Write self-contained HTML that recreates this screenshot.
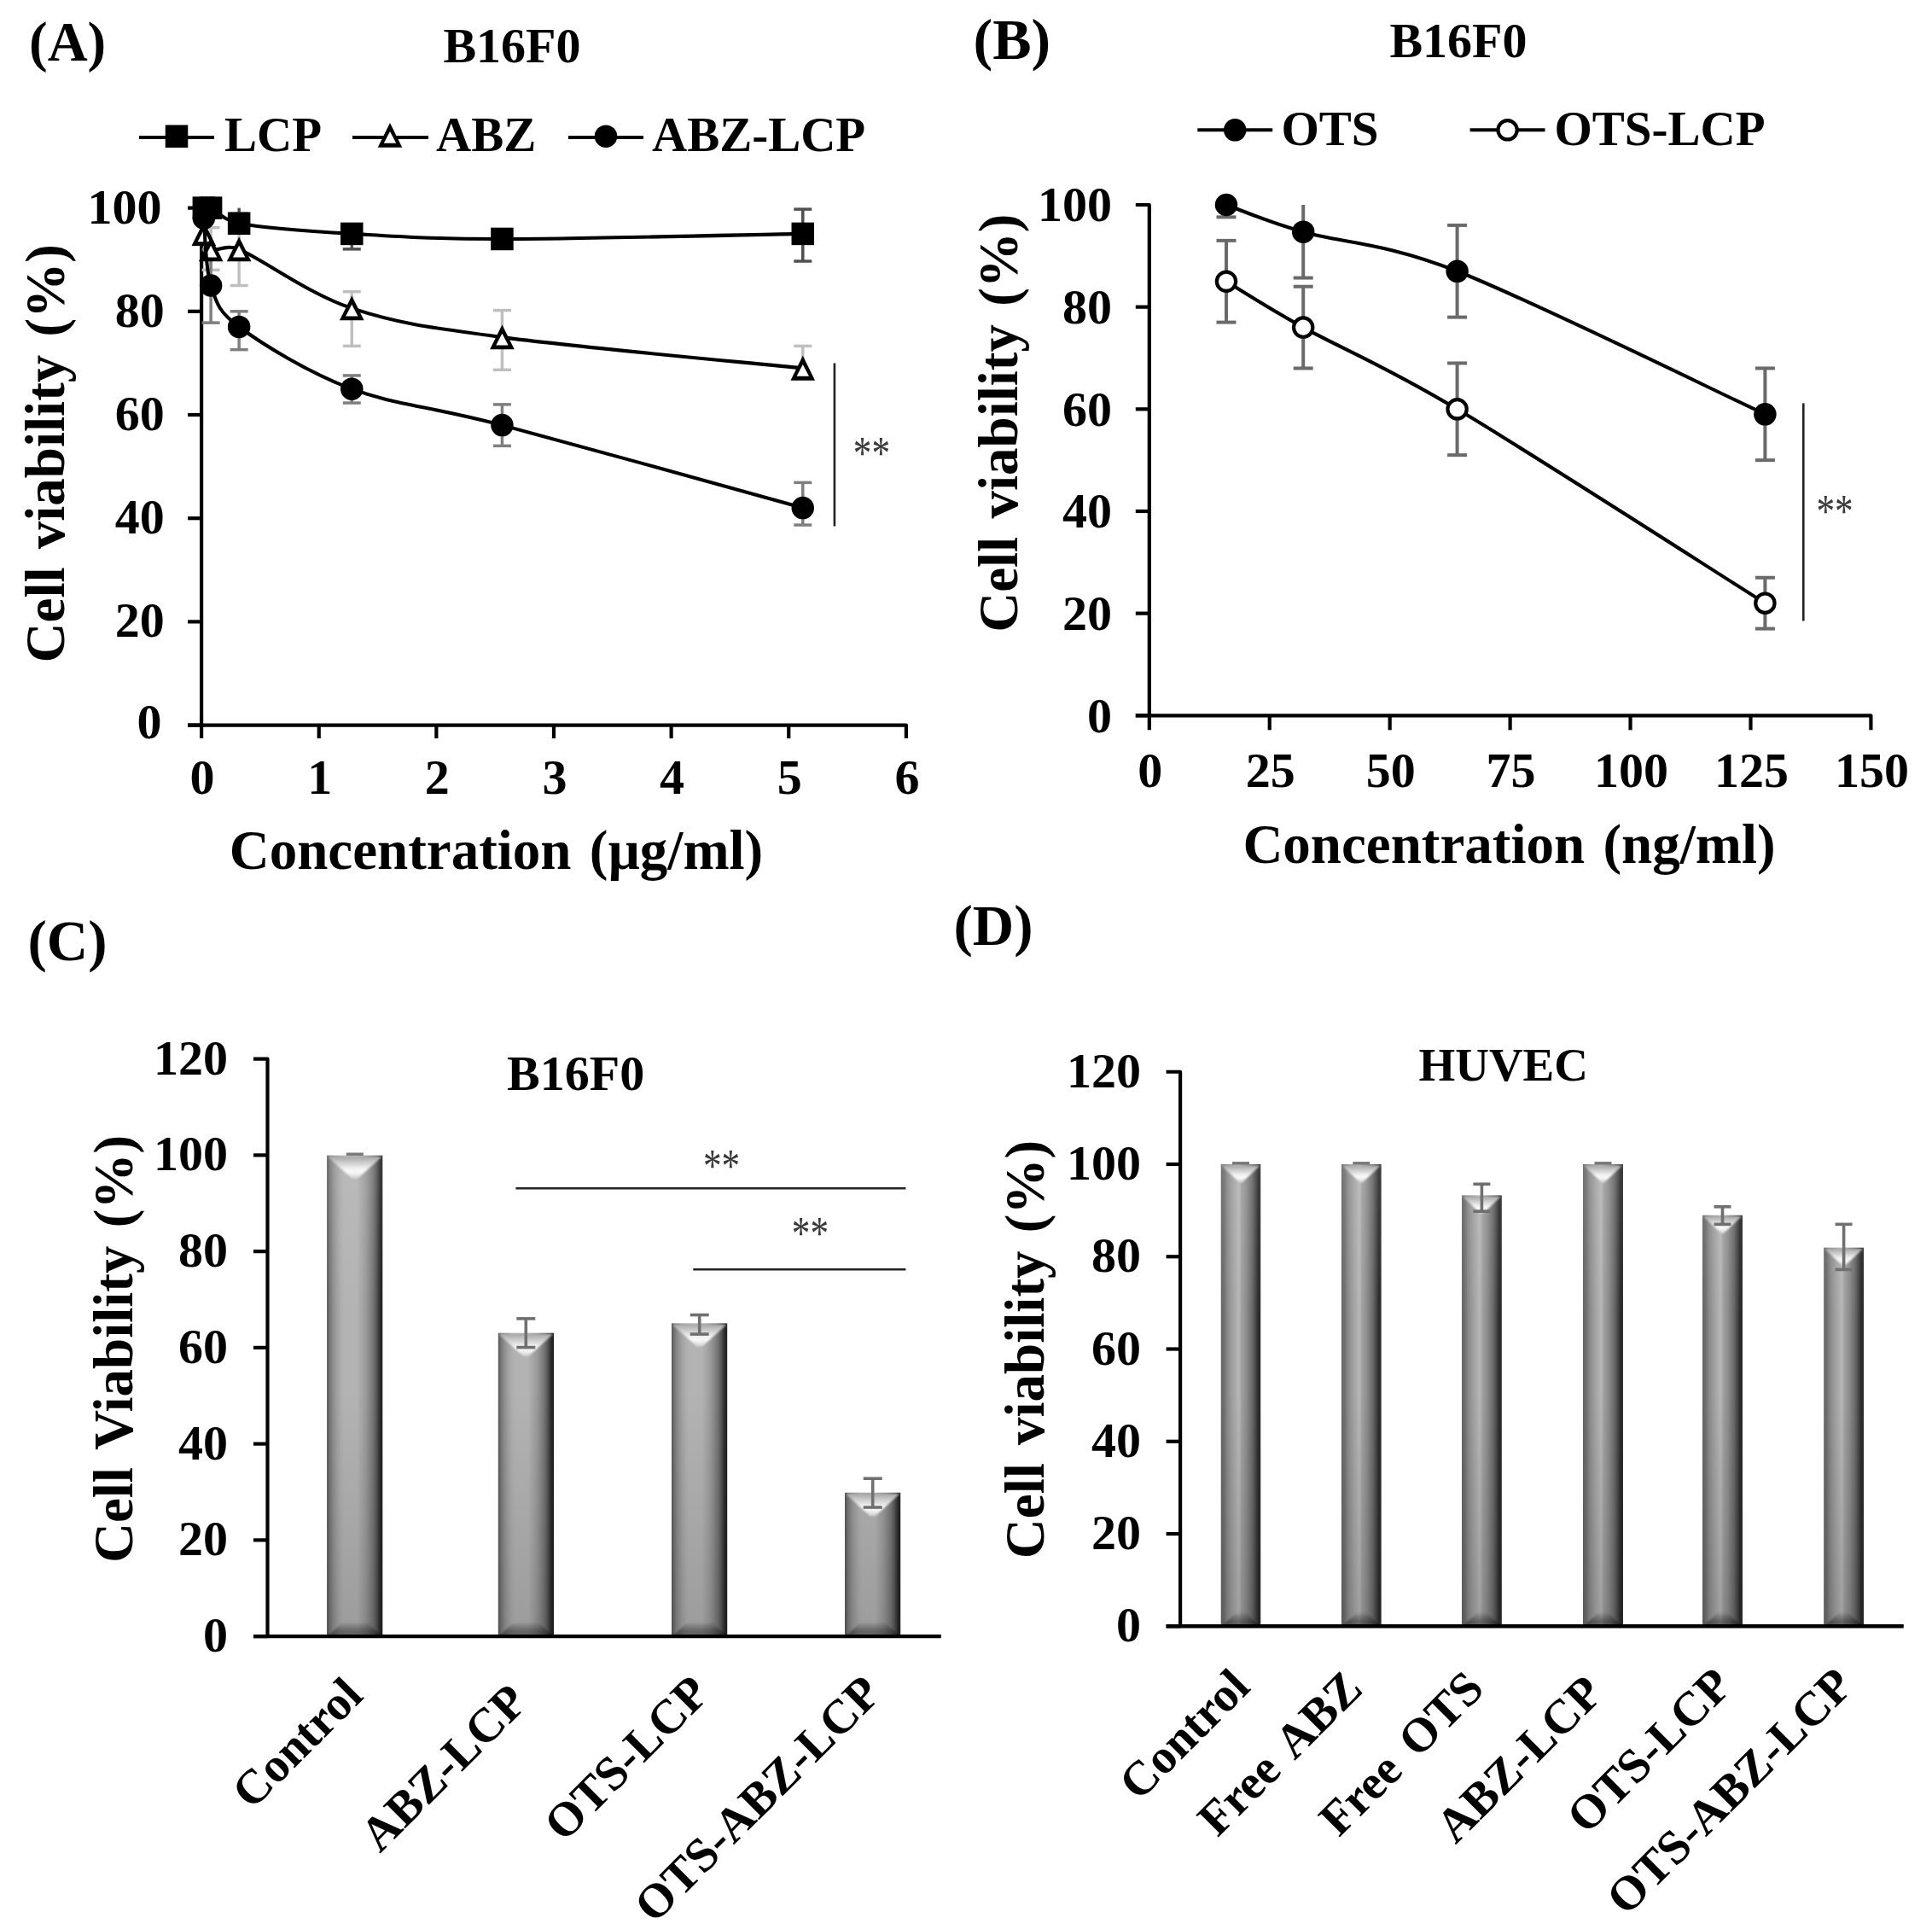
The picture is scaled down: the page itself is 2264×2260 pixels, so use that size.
<!DOCTYPE html>
<html><head><meta charset="utf-8"><title>Figure</title>
<style>
html,body{margin:0;padding:0;background:#fff;}
svg{display:block;font-family:"Liberation Serif","Times New Roman",serif;}
svg.blur{filter:blur(0.75px);}
</style></head><body>
<svg class="blur" width="2264" height="2260" viewBox="0 0 2264 2260">
<rect width="2264" height="2260" fill="#fff"/>
<defs>
<linearGradient id="gbar" x1="0" y1="0" x2="1" y2="0">
<stop offset="0" stop-color="#555"/><stop offset="0.055" stop-color="#777"/><stop offset="0.12" stop-color="#909090"/><stop offset="0.18" stop-color="#a0a0a0"/><stop offset="0.25" stop-color="#adadad"/><stop offset="0.31" stop-color="#b3b3b3"/><stop offset="0.54" stop-color="#b3b3b3"/><stop offset="0.635" stop-color="#a4a4a4"/><stop offset="0.70" stop-color="#999"/><stop offset="0.76" stop-color="#888"/><stop offset="0.83" stop-color="#737373"/><stop offset="0.89" stop-color="#555"/><stop offset="0.925" stop-color="#3c3c3c"/><stop offset="0.96" stop-color="#262626"/><stop offset="1" stop-color="#202020"/>
</linearGradient>
<linearGradient id="gbarD" x1="0" y1="0" x2="1" y2="0">
<stop offset="0" stop-color="#646464"/><stop offset="0.085" stop-color="#707070"/><stop offset="0.16" stop-color="#888"/><stop offset="0.24" stop-color="#979797"/><stop offset="0.32" stop-color="#a4a4a4"/><stop offset="0.395" stop-color="#aeaeae"/><stop offset="0.45" stop-color="#b7b7b7"/><stop offset="0.475" stop-color="#b0b0b0"/><stop offset="0.52" stop-color="#a0a0a0"/><stop offset="0.63" stop-color="#8e8e8e"/><stop offset="0.705" stop-color="#7c7c7c"/><stop offset="0.78" stop-color="#6a6a6a"/><stop offset="0.86" stop-color="#4c4c4c"/><stop offset="0.915" stop-color="#333"/><stop offset="0.94" stop-color="#2a2a2a"/><stop offset="1" stop-color="#2e2e2e"/>
</linearGradient>
<linearGradient id="gvert" gradientUnits="userSpaceOnUse" x1="0" y1="1340" x2="0" y2="1920">
<stop offset="0" stop-color="#fff" stop-opacity="0.10"/><stop offset="0.35" stop-color="#fff" stop-opacity="0"/><stop offset="0.5" stop-color="#000" stop-opacity="0"/><stop offset="1" stop-color="#000" stop-opacity="0.13"/>
</linearGradient>
<linearGradient id="gtop" x1="0" y1="0" x2="0" y2="1">
<stop offset="0" stop-color="#a6a6a6"/><stop offset="0.3" stop-color="#d0d0d0"/><stop offset="0.55" stop-color="#f2f2f2"/><stop offset="0.68" stop-color="#fafafa"/><stop offset="0.85" stop-color="#e6e6e6"/><stop offset="1" stop-color="#c8c8c8"/>
</linearGradient>
<linearGradient id="gbot" x1="0" y1="0" x2="0" y2="1">
<stop offset="0" stop-color="#000" stop-opacity="0.06"/><stop offset="0.65" stop-color="#000" stop-opacity="0.38"/><stop offset="1" stop-color="#000" stop-opacity="0.33"/>
</linearGradient>
<filter id="bl15" x="-20%" y="-20%" width="140%" height="140%"><feGaussianBlur stdDeviation="1.3"/></filter>
<filter id="bl10" x="-20%" y="-20%" width="140%" height="140%"><feGaussianBlur stdDeviation="1.0"/></filter>
</defs>
<text x="34" y="70.5" font-size="65" text-anchor="start" font-weight="bold" fill="#000">(A)</text>
<text x="600" y="73" font-size="58" text-anchor="middle" font-weight="bold" fill="#000">B16F0</text>
<line x1="163" y1="161" x2="251" y2="161" stroke="#000" stroke-width="4" stroke-linecap="butt"/>
<rect x="193.75" y="146.45" width="26.5" height="26.5" fill="#000"/>
<text x="263" y="177" font-size="57" text-anchor="start" font-weight="bold" fill="#000">LCP</text>
<line x1="413" y1="161" x2="502" y2="161" stroke="#000" stroke-width="4" stroke-linecap="butt"/>
<polygon points="457,143.9 471.3,172.7 442.7,172.7" fill="#000"/>
<polygon points="457,154.1 464.2,167.8 449.8,167.8" fill="#fff"/>
<text x="511" y="177" font-size="57" text-anchor="start" font-weight="bold" fill="#000">ABZ</text>
<line x1="666" y1="161" x2="754" y2="161" stroke="#000" stroke-width="4" stroke-linecap="butt"/>
<circle cx="710" cy="159.7" r="13.25" fill="#000"/>
<text x="764" y="177" font-size="57" text-anchor="start" font-weight="bold" fill="#000">ABZ-LCP</text>
<path d="M220.1,243.6 H236.1 V865.1" fill="none" stroke="#000" stroke-width="4.2" stroke-linejoin="round"/>
<path d="M220.1,849.6 H1061.88 V865.1" fill="none" stroke="#000" stroke-width="4.2" stroke-linejoin="round"/>
<line x1="220.1" y1="849.6" x2="236.1" y2="849.6" stroke="#000" stroke-width="4.2" stroke-linecap="butt"/>
<line x1="220.1" y1="728.4" x2="236.1" y2="728.4" stroke="#000" stroke-width="4.2" stroke-linecap="butt"/>
<line x1="220.1" y1="607.2" x2="236.1" y2="607.2" stroke="#000" stroke-width="4.2" stroke-linecap="butt"/>
<line x1="220.1" y1="486" x2="236.1" y2="486" stroke="#000" stroke-width="4.2" stroke-linecap="butt"/>
<line x1="220.1" y1="364.8" x2="236.1" y2="364.8" stroke="#000" stroke-width="4.2" stroke-linecap="butt"/>
<text x="189.5" y="865.2" font-size="58" text-anchor="end" font-weight="bold" fill="#000">0</text>
<text x="192.8" y="746.4" font-size="58" text-anchor="end" font-weight="bold" fill="#000">20</text>
<text x="192.8" y="625.2" font-size="58" text-anchor="end" font-weight="bold" fill="#000">40</text>
<text x="192.8" y="504" font-size="58" text-anchor="end" font-weight="bold" fill="#000">60</text>
<text x="192.8" y="382.8" font-size="58" text-anchor="end" font-weight="bold" fill="#000">80</text>
<text x="189.5" y="261.6" font-size="58" text-anchor="end" font-weight="bold" fill="#000">100</text>
<text x="237.1" y="930.2" font-size="58" text-anchor="middle" font-weight="bold" fill="#000">0</text>
<line x1="373.73" y1="849.6" x2="373.73" y2="865.1" stroke="#000" stroke-width="4.2" stroke-linecap="butt"/>
<text x="374.73" y="930.2" font-size="58" text-anchor="middle" font-weight="bold" fill="#000">1</text>
<line x1="511.36" y1="849.6" x2="511.36" y2="865.1" stroke="#000" stroke-width="4.2" stroke-linecap="butt"/>
<text x="512.36" y="930.2" font-size="58" text-anchor="middle" font-weight="bold" fill="#000">2</text>
<line x1="648.99" y1="849.6" x2="648.99" y2="865.1" stroke="#000" stroke-width="4.2" stroke-linecap="butt"/>
<text x="649.99" y="930.2" font-size="58" text-anchor="middle" font-weight="bold" fill="#000">3</text>
<line x1="786.62" y1="849.6" x2="786.62" y2="865.1" stroke="#000" stroke-width="4.2" stroke-linecap="butt"/>
<text x="787.62" y="930.2" font-size="58" text-anchor="middle" font-weight="bold" fill="#000">4</text>
<line x1="924.25" y1="849.6" x2="924.25" y2="865.1" stroke="#000" stroke-width="4.2" stroke-linecap="butt"/>
<text x="925.25" y="930.2" font-size="58" text-anchor="middle" font-weight="bold" fill="#000">5</text>
<text x="1062.88" y="930.2" font-size="58" text-anchor="middle" font-weight="bold" fill="#000">6</text>
<text x="581.5" y="1018.3" font-size="65" text-anchor="middle" font-weight="bold" fill="#000" word-spacing="5">Concentration (µg/ml)</text>
<text x="74.9" y="531.3" font-size="65" text-anchor="middle" font-weight="bold" fill="#000" transform="rotate(-90 74.9 531.3)" word-spacing="5">Cell viability (%)</text>
<line x1="247.11" y1="266.63" x2="247.11" y2="316.32" stroke="#bfbfbf" stroke-width="3.5" stroke-linecap="butt"/>
<line x1="236.61" y1="266.63" x2="257.61" y2="266.63" stroke="#bfbfbf" stroke-width="3.5" stroke-linecap="butt"/>
<line x1="236.61" y1="316.32" x2="257.61" y2="316.32" stroke="#bfbfbf" stroke-width="3.5" stroke-linecap="butt"/>
<line x1="280.14" y1="249.66" x2="280.14" y2="334.5" stroke="#bfbfbf" stroke-width="3.5" stroke-linecap="butt"/>
<line x1="269.64" y1="249.66" x2="290.64" y2="249.66" stroke="#bfbfbf" stroke-width="3.5" stroke-linecap="butt"/>
<line x1="269.64" y1="334.5" x2="290.64" y2="334.5" stroke="#bfbfbf" stroke-width="3.5" stroke-linecap="butt"/>
<line x1="412.27" y1="341.77" x2="412.27" y2="405.4" stroke="#bfbfbf" stroke-width="3.5" stroke-linecap="butt"/>
<line x1="401.77" y1="341.77" x2="422.77" y2="341.77" stroke="#bfbfbf" stroke-width="3.5" stroke-linecap="butt"/>
<line x1="401.77" y1="405.4" x2="422.77" y2="405.4" stroke="#bfbfbf" stroke-width="3.5" stroke-linecap="butt"/>
<line x1="588.43" y1="363.59" x2="588.43" y2="433.28" stroke="#bfbfbf" stroke-width="3.5" stroke-linecap="butt"/>
<line x1="577.93" y1="363.59" x2="598.93" y2="363.59" stroke="#bfbfbf" stroke-width="3.5" stroke-linecap="butt"/>
<line x1="577.93" y1="433.28" x2="598.93" y2="433.28" stroke="#bfbfbf" stroke-width="3.5" stroke-linecap="butt"/>
<line x1="940.77" y1="405.4" x2="940.77" y2="431.46" stroke="#bfbfbf" stroke-width="3.5" stroke-linecap="butt"/>
<line x1="930.27" y1="405.4" x2="951.27" y2="405.4" stroke="#bfbfbf" stroke-width="3.5" stroke-linecap="butt"/>
<line x1="280.14" y1="243.6" x2="280.14" y2="261.78" stroke="#505050" stroke-width="3.5" stroke-linecap="butt"/>
<line x1="412.27" y1="273.9" x2="412.27" y2="291.84" stroke="#505050" stroke-width="3.5" stroke-linecap="butt"/>
<line x1="401.77" y1="291.84" x2="422.77" y2="291.84" stroke="#505050" stroke-width="3.5" stroke-linecap="butt"/>
<line x1="588.43" y1="269.05" x2="588.43" y2="290.87" stroke="#505050" stroke-width="3.5" stroke-linecap="butt"/>
<line x1="577.93" y1="269.05" x2="598.93" y2="269.05" stroke="#505050" stroke-width="3.5" stroke-linecap="butt"/>
<line x1="577.93" y1="290.87" x2="598.93" y2="290.87" stroke="#505050" stroke-width="3.5" stroke-linecap="butt"/>
<line x1="940.77" y1="245.12" x2="940.77" y2="306.02" stroke="#505050" stroke-width="3.5" stroke-linecap="butt"/>
<line x1="930.27" y1="245.12" x2="951.27" y2="245.12" stroke="#505050" stroke-width="3.5" stroke-linecap="butt"/>
<line x1="930.27" y1="306.02" x2="951.27" y2="306.02" stroke="#505050" stroke-width="3.5" stroke-linecap="butt"/>
<line x1="247.11" y1="292.08" x2="247.11" y2="378.13" stroke="#7f7f7f" stroke-width="3.5" stroke-linecap="butt"/>
<line x1="236.61" y1="292.08" x2="257.61" y2="292.08" stroke="#7f7f7f" stroke-width="3.5" stroke-linecap="butt"/>
<line x1="236.61" y1="378.13" x2="257.61" y2="378.13" stroke="#7f7f7f" stroke-width="3.5" stroke-linecap="butt"/>
<line x1="280.14" y1="364.8" x2="280.14" y2="409.64" stroke="#7f7f7f" stroke-width="3.5" stroke-linecap="butt"/>
<line x1="269.64" y1="364.8" x2="290.64" y2="364.8" stroke="#7f7f7f" stroke-width="3.5" stroke-linecap="butt"/>
<line x1="269.64" y1="409.64" x2="290.64" y2="409.64" stroke="#7f7f7f" stroke-width="3.5" stroke-linecap="butt"/>
<line x1="412.27" y1="439.94" x2="412.27" y2="472.06" stroke="#7f7f7f" stroke-width="3.5" stroke-linecap="butt"/>
<line x1="401.77" y1="439.94" x2="422.77" y2="439.94" stroke="#7f7f7f" stroke-width="3.5" stroke-linecap="butt"/>
<line x1="401.77" y1="472.06" x2="422.77" y2="472.06" stroke="#7f7f7f" stroke-width="3.5" stroke-linecap="butt"/>
<line x1="588.43" y1="473.88" x2="588.43" y2="522.36" stroke="#7f7f7f" stroke-width="3.5" stroke-linecap="butt"/>
<line x1="577.93" y1="473.88" x2="598.93" y2="473.88" stroke="#7f7f7f" stroke-width="3.5" stroke-linecap="butt"/>
<line x1="577.93" y1="522.36" x2="598.93" y2="522.36" stroke="#7f7f7f" stroke-width="3.5" stroke-linecap="butt"/>
<line x1="940.77" y1="565.39" x2="940.77" y2="615.08" stroke="#7f7f7f" stroke-width="3.5" stroke-linecap="butt"/>
<line x1="930.27" y1="565.39" x2="951.27" y2="565.39" stroke="#7f7f7f" stroke-width="3.5" stroke-linecap="butt"/>
<line x1="930.27" y1="615.08" x2="951.27" y2="615.08" stroke="#7f7f7f" stroke-width="3.5" stroke-linecap="butt"/>
<path d="M238.85,243.6 C240.23,243.6 243.33,241.94 247.11,243.6 C253.99,246.63 261.6,258.38 280.14,261.78 C307.67,266.83 360.88,270.87 412.27,273.9 C463.65,276.93 500.35,279.96 588.43,279.96 C676.52,279.96 882.04,274.91 940.77,273.9" fill="none" stroke="#000" stroke-width="4.1" stroke-linejoin="round"/>
<rect x="225.6" y="230.35" width="26.5" height="26.5" fill="#000"/>
<rect x="233.86" y="230.35" width="26.5" height="26.5" fill="#000"/>
<rect x="266.89" y="248.53" width="26.5" height="26.5" fill="#000"/>
<rect x="399.02" y="260.65" width="26.5" height="26.5" fill="#000"/>
<rect x="575.18" y="266.71" width="26.5" height="26.5" fill="#000"/>
<rect x="927.52" y="260.65" width="26.5" height="26.5" fill="#000"/>
<path d="M238.85,273.9 C240.23,276.93 240.23,289.05 247.11,292.08 C253.99,295.11 264.91,285.71 280.14,292.08 C307.67,303.59 360.88,343.99 412.27,361.16 C463.65,378.33 500.35,383.38 588.43,395.1 C676.52,406.82 882.04,425.4 940.77,431.46" fill="none" stroke="#000" stroke-width="4.1" stroke-linejoin="round"/>
<polygon points="238.85,259.3 253.15,288.1 224.55,288.1" fill="#000"/>
<polygon points="238.85,269.5 246.05,283.2 231.65,283.2" fill="#fff"/>
<polygon points="247.11,277.48 261.41,306.28 232.81,306.28" fill="#000"/>
<polygon points="247.11,287.68 254.31,301.38 239.91,301.38" fill="#fff"/>
<polygon points="280.14,277.48 294.44,306.28 265.84,306.28" fill="#000"/>
<polygon points="280.14,287.68 287.34,301.38 272.94,301.38" fill="#fff"/>
<polygon points="412.27,346.56 426.57,375.36 397.97,375.36" fill="#000"/>
<polygon points="412.27,356.76 419.47,370.46 405.07,370.46" fill="#fff"/>
<polygon points="588.43,380.5 602.73,409.3 574.13,409.3" fill="#000"/>
<polygon points="588.43,390.7 595.63,404.4 581.23,404.4" fill="#fff"/>
<polygon points="940.77,416.86 955.07,445.66 926.47,445.66" fill="#000"/>
<polygon points="940.77,427.06 947.97,440.76 933.57,440.76" fill="#fff"/>
<path d="M238.85,255.72 C240.23,268.85 240.23,313.29 247.11,334.5 C253.99,355.71 256.49,365.63 280.14,382.98 C307.67,403.18 360.88,436.51 412.27,455.7 C463.65,474.89 500.83,475.02 588.43,498.12 C676.52,521.35 882.04,578.92 940.77,595.08" fill="none" stroke="#000" stroke-width="4.1" stroke-linejoin="round"/>
<circle cx="238.85" cy="255.72" r="13.25" fill="#000"/>
<circle cx="247.11" cy="334.5" r="13.25" fill="#000"/>
<circle cx="280.14" cy="382.98" r="13.25" fill="#000"/>
<circle cx="412.27" cy="455.7" r="13.25" fill="#000"/>
<circle cx="588.43" cy="498.12" r="13.25" fill="#000"/>
<circle cx="940.77" cy="595.08" r="13.25" fill="#000"/>
<line x1="977.9" y1="425.5" x2="977.9" y2="616.5" stroke="#222" stroke-width="2.6" stroke-linecap="butt"/>
<text transform="translate(1021.4 549.27) scale(0.96 1.2)" x="0" y="0" font-size="45" text-anchor="middle" font-weight="normal" fill="#3a3a3a">**</text>
<text x="1140.5" y="69" font-size="68" text-anchor="start" font-weight="bold" fill="#000">(B)</text>
<text x="1709" y="66.5" font-size="58" text-anchor="middle" font-weight="bold" fill="#000">B16F0</text>
<line x1="1403.3" y1="152.3" x2="1491.2" y2="152.3" stroke="#000" stroke-width="4" stroke-linecap="butt"/>
<circle cx="1447.2" cy="152.3" r="13.25" fill="#000"/>
<text x="1501.5" y="169.6" font-size="57" text-anchor="start" font-weight="bold" fill="#000">OTS</text>
<line x1="1722.6" y1="152.3" x2="1810.5" y2="152.3" stroke="#000" stroke-width="4" stroke-linecap="butt"/>
<circle cx="1766.6" cy="152.3" r="11.15" fill="#fff" stroke="#000" stroke-width="4.2"/>
<text x="1821.5" y="169.6" font-size="57" text-anchor="start" font-weight="bold" fill="#000">OTS-LCP</text>
<path d="M1330.8,240 H1346.8 V855.3" fill="none" stroke="#000" stroke-width="4.2" stroke-linejoin="round"/>
<path d="M1330.8,838.3 H2192.43 V855.3" fill="none" stroke="#000" stroke-width="4.2" stroke-linejoin="round"/>
<line x1="1330.8" y1="838.3" x2="1346.8" y2="838.3" stroke="#000" stroke-width="4.2" stroke-linecap="butt"/>
<line x1="1330.8" y1="718.64" x2="1346.8" y2="718.64" stroke="#000" stroke-width="4.2" stroke-linecap="butt"/>
<line x1="1330.8" y1="598.98" x2="1346.8" y2="598.98" stroke="#000" stroke-width="4.2" stroke-linecap="butt"/>
<line x1="1330.8" y1="479.32" x2="1346.8" y2="479.32" stroke="#000" stroke-width="4.2" stroke-linecap="butt"/>
<line x1="1330.8" y1="359.66" x2="1346.8" y2="359.66" stroke="#000" stroke-width="4.2" stroke-linecap="butt"/>
<text x="1303" y="857.6" font-size="58" text-anchor="end" font-weight="bold" fill="#000">0</text>
<text x="1303" y="737.94" font-size="58" text-anchor="end" font-weight="bold" fill="#000">20</text>
<text x="1303" y="618.28" font-size="58" text-anchor="end" font-weight="bold" fill="#000">40</text>
<text x="1303" y="498.62" font-size="58" text-anchor="end" font-weight="bold" fill="#000">60</text>
<text x="1303" y="378.96" font-size="58" text-anchor="end" font-weight="bold" fill="#000">80</text>
<text x="1303" y="259.3" font-size="58" text-anchor="end" font-weight="bold" fill="#000">100</text>
<text x="1347.8" y="922" font-size="58" text-anchor="middle" font-weight="bold" fill="#000">0</text>
<line x1="1487.74" y1="838.3" x2="1487.74" y2="855.3" stroke="#000" stroke-width="4.2" stroke-linecap="butt"/>
<text x="1488.74" y="922" font-size="58" text-anchor="middle" font-weight="bold" fill="#000">25</text>
<line x1="1628.67" y1="838.3" x2="1628.67" y2="855.3" stroke="#000" stroke-width="4.2" stroke-linecap="butt"/>
<text x="1629.67" y="922" font-size="58" text-anchor="middle" font-weight="bold" fill="#000">50</text>
<line x1="1769.61" y1="838.3" x2="1769.61" y2="855.3" stroke="#000" stroke-width="4.2" stroke-linecap="butt"/>
<text x="1770.61" y="922" font-size="58" text-anchor="middle" font-weight="bold" fill="#000">75</text>
<line x1="1910.55" y1="838.3" x2="1910.55" y2="855.3" stroke="#000" stroke-width="4.2" stroke-linecap="butt"/>
<text x="1911.55" y="922" font-size="58" text-anchor="middle" font-weight="bold" fill="#000">100</text>
<line x1="2051.49" y1="838.3" x2="2051.49" y2="855.3" stroke="#000" stroke-width="4.2" stroke-linecap="butt"/>
<text x="2052.49" y="922" font-size="58" text-anchor="middle" font-weight="bold" fill="#000">125</text>
<text x="2193.43" y="922" font-size="58" text-anchor="middle" font-weight="bold" fill="#000">150</text>
<text x="1768.5" y="1011" font-size="65" text-anchor="middle" font-weight="bold" fill="#000" word-spacing="5">Concentration (ng/ml)</text>
<text x="1191.8" y="495.6" font-size="65" text-anchor="middle" font-weight="bold" fill="#000" transform="rotate(-90 1191.8 495.6)" word-spacing="5">Cell viability (%)</text>
<line x1="1437" y1="240" x2="1437" y2="254.36" stroke="#6a6a6a" stroke-width="4" stroke-linecap="butt"/>
<line x1="1425.5" y1="254.36" x2="1448.5" y2="254.36" stroke="#6a6a6a" stroke-width="4" stroke-linecap="butt"/>
<line x1="1527.2" y1="240" x2="1527.2" y2="325.56" stroke="#6a6a6a" stroke-width="4" stroke-linecap="butt"/>
<line x1="1515.7" y1="325.56" x2="1538.7" y2="325.56" stroke="#6a6a6a" stroke-width="4" stroke-linecap="butt"/>
<line x1="1707.6" y1="263.93" x2="1707.6" y2="371.63" stroke="#6a6a6a" stroke-width="4" stroke-linecap="butt"/>
<line x1="1696.1" y1="263.93" x2="1719.1" y2="263.93" stroke="#6a6a6a" stroke-width="4" stroke-linecap="butt"/>
<line x1="1696.1" y1="371.63" x2="1719.1" y2="371.63" stroke="#6a6a6a" stroke-width="4" stroke-linecap="butt"/>
<line x1="2068.4" y1="431.46" x2="2068.4" y2="539.15" stroke="#6a6a6a" stroke-width="4" stroke-linecap="butt"/>
<line x1="2056.9" y1="431.46" x2="2079.9" y2="431.46" stroke="#6a6a6a" stroke-width="4" stroke-linecap="butt"/>
<line x1="2056.9" y1="539.15" x2="2079.9" y2="539.15" stroke="#6a6a6a" stroke-width="4" stroke-linecap="butt"/>
<line x1="1437" y1="281.88" x2="1437" y2="377.61" stroke="#6a6a6a" stroke-width="4" stroke-linecap="butt"/>
<line x1="1425.5" y1="281.88" x2="1448.5" y2="281.88" stroke="#6a6a6a" stroke-width="4" stroke-linecap="butt"/>
<line x1="1425.5" y1="377.61" x2="1448.5" y2="377.61" stroke="#6a6a6a" stroke-width="4" stroke-linecap="butt"/>
<line x1="1527.2" y1="335.73" x2="1527.2" y2="431.46" stroke="#6a6a6a" stroke-width="4" stroke-linecap="butt"/>
<line x1="1515.7" y1="335.73" x2="1538.7" y2="335.73" stroke="#6a6a6a" stroke-width="4" stroke-linecap="butt"/>
<line x1="1515.7" y1="431.46" x2="1538.7" y2="431.46" stroke="#6a6a6a" stroke-width="4" stroke-linecap="butt"/>
<line x1="1707.6" y1="425.47" x2="1707.6" y2="533.17" stroke="#6a6a6a" stroke-width="4" stroke-linecap="butt"/>
<line x1="1696.1" y1="425.47" x2="1719.1" y2="425.47" stroke="#6a6a6a" stroke-width="4" stroke-linecap="butt"/>
<line x1="1696.1" y1="533.17" x2="1719.1" y2="533.17" stroke="#6a6a6a" stroke-width="4" stroke-linecap="butt"/>
<line x1="2068.4" y1="676.76" x2="2068.4" y2="736.59" stroke="#6a6a6a" stroke-width="4" stroke-linecap="butt"/>
<line x1="2056.9" y1="676.76" x2="2079.9" y2="676.76" stroke="#6a6a6a" stroke-width="4" stroke-linecap="butt"/>
<line x1="2056.9" y1="736.59" x2="2079.9" y2="736.59" stroke="#6a6a6a" stroke-width="4" stroke-linecap="butt"/>
<path d="M1437,240 C1452.03,245.28 1482.1,258.75 1527.2,271.71 C1572.3,284.67 1621.01,283.6 1707.6,317.78 C1797.8,353.38 2008.27,457.38 2068.4,485.3" fill="none" stroke="#000" stroke-width="4.1" stroke-linejoin="round"/>
<circle cx="1437" cy="240" r="13.25" fill="#000"/>
<circle cx="1527.2" cy="271.71" r="13.25" fill="#000"/>
<circle cx="1707.6" cy="317.78" r="13.25" fill="#000"/>
<circle cx="2068.4" cy="485.3" r="13.25" fill="#000"/>
<path d="M1437,329.75 C1452.03,338.72 1482.1,358.66 1527.2,383.59 C1572.3,408.52 1619.92,426.98 1707.6,479.32 C1797.8,533.17 2008.27,668.78 2068.4,706.67" fill="none" stroke="#000" stroke-width="4.1" stroke-linejoin="round"/>
<circle cx="1437" cy="329.75" r="11.15" fill="#fff" stroke="#000" stroke-width="4.2"/>
<circle cx="1527.2" cy="383.59" r="11.15" fill="#fff" stroke="#000" stroke-width="4.2"/>
<circle cx="1707.6" cy="479.32" r="11.15" fill="#fff" stroke="#000" stroke-width="4.2"/>
<circle cx="2068.4" cy="706.67" r="11.15" fill="#fff" stroke="#000" stroke-width="4.2"/>
<line x1="2113.3" y1="472.4" x2="2113.3" y2="727.5" stroke="#222" stroke-width="2.6" stroke-linecap="butt"/>
<text transform="translate(2150 616.57) scale(0.96 1.2)" x="0" y="0" font-size="45" text-anchor="middle" font-weight="normal" fill="#3a3a3a">**</text>
<text x="32.5" y="1124.5" font-size="67" text-anchor="start" font-weight="bold" fill="#000">(C)</text>
<text x="674.6" y="1276.8" font-size="58" text-anchor="middle" font-weight="bold" fill="#000">B16F0</text>
<path d="M297,1240.66 H313.5 V1917.1" fill="none" stroke="#000" stroke-width="4.2" stroke-linejoin="round"/>
<line x1="297" y1="1917.1" x2="313.5" y2="1917.1" stroke="#000" stroke-width="4.2" stroke-linecap="butt"/>
<line x1="297" y1="1804.36" x2="313.5" y2="1804.36" stroke="#000" stroke-width="4.2" stroke-linecap="butt"/>
<line x1="297" y1="1691.62" x2="313.5" y2="1691.62" stroke="#000" stroke-width="4.2" stroke-linecap="butt"/>
<line x1="297" y1="1578.88" x2="313.5" y2="1578.88" stroke="#000" stroke-width="4.2" stroke-linecap="butt"/>
<line x1="297" y1="1466.14" x2="313.5" y2="1466.14" stroke="#000" stroke-width="4.2" stroke-linecap="butt"/>
<line x1="297" y1="1353.4" x2="313.5" y2="1353.4" stroke="#000" stroke-width="4.2" stroke-linecap="butt"/>
<text x="267" y="1935.1" font-size="58" text-anchor="end" font-weight="bold" fill="#000">0</text>
<text x="267" y="1822.36" font-size="58" text-anchor="end" font-weight="bold" fill="#000">20</text>
<text x="267" y="1709.62" font-size="58" text-anchor="end" font-weight="bold" fill="#000">40</text>
<text x="267" y="1596.88" font-size="58" text-anchor="end" font-weight="bold" fill="#000">60</text>
<text x="267" y="1484.14" font-size="58" text-anchor="end" font-weight="bold" fill="#000">80</text>
<text x="267" y="1371.4" font-size="58" text-anchor="end" font-weight="bold" fill="#000">100</text>
<text x="267" y="1258.66" font-size="58" text-anchor="end" font-weight="bold" fill="#000">120</text>
<clipPath id="cpc0"><rect x="383.05" y="1353.4" width="65.5" height="563.7"/></clipPath>
<g clip-path="url(#cpc0)">
<rect x="383.05" y="1353.4" width="65.5" height="563.7" fill="url(#gbar)"/>
<rect x="383.05" y="1353.4" width="65.5" height="563.7" fill="url(#gvert)"/>
<polygon points="384.05,1354.9 447.55,1354.9 418.8,1381.1 412.8,1381.1" fill="url(#gtop)" filter="url(#bl15)"/>
<polygon points="384.05,1917.1 447.55,1917.1 430.94,1901.6 400.66,1901.6" fill="url(#gbot)" filter="url(#bl10)"/>
</g>
<line x1="405.8" y1="1352.2" x2="425.8" y2="1352.2" stroke="#777" stroke-width="3.4" stroke-linecap="butt"/>
<text x="427.5" y="1989" font-size="56.5" text-anchor="end" font-weight="bold" fill="#000" transform="rotate(-45 427.5 1989)" word-spacing="8">Control</text>
<clipPath id="cpc1"><rect x="583.55" y="1561.41" width="65.5" height="355.69"/></clipPath>
<g clip-path="url(#cpc1)">
<rect x="583.55" y="1561.41" width="65.5" height="355.69" fill="url(#gbar)"/>
<rect x="583.55" y="1561.41" width="65.5" height="355.69" fill="url(#gvert)"/>
<polygon points="584.55,1562.91 648.05,1562.91 619.3,1589.11 613.3,1589.11" fill="url(#gtop)" filter="url(#bl15)"/>
<polygon points="584.55,1917.1 648.05,1917.1 631.44,1901.6 601.16,1901.6" fill="url(#gbot)" filter="url(#bl10)"/>
</g>
<line x1="616.3" y1="1544.89" x2="616.3" y2="1578.6" stroke="#707070" stroke-width="3.6" stroke-linecap="butt"/>
<line x1="605.3" y1="1544.89" x2="627.3" y2="1544.89" stroke="#707070" stroke-width="3.6" stroke-linecap="butt"/>
<line x1="605.3" y1="1578.6" x2="627.3" y2="1578.6" stroke="#707070" stroke-width="3.6" stroke-linecap="butt"/>
<text x="620.6" y="1996.6" font-size="56.5" text-anchor="end" font-weight="bold" fill="#000" transform="rotate(-45 620.6 1996.6)" word-spacing="8">ABZ-LCP</text>
<clipPath id="cpc2"><rect x="786.95" y="1550.13" width="65.5" height="366.97"/></clipPath>
<g clip-path="url(#cpc2)">
<rect x="786.95" y="1550.13" width="65.5" height="366.97" fill="url(#gbar)"/>
<rect x="786.95" y="1550.13" width="65.5" height="366.97" fill="url(#gvert)"/>
<polygon points="787.95,1551.63 851.45,1551.63 822.7,1577.83 816.7,1577.83" fill="url(#gtop)" filter="url(#bl15)"/>
<polygon points="787.95,1917.1 851.45,1917.1 834.84,1901.6 804.56,1901.6" fill="url(#gbot)" filter="url(#bl10)"/>
</g>
<line x1="819.7" y1="1540.55" x2="819.7" y2="1563.1" stroke="#707070" stroke-width="3.6" stroke-linecap="butt"/>
<line x1="808.7" y1="1540.55" x2="830.7" y2="1540.55" stroke="#707070" stroke-width="3.6" stroke-linecap="butt"/>
<line x1="808.7" y1="1563.1" x2="830.7" y2="1563.1" stroke="#707070" stroke-width="3.6" stroke-linecap="butt"/>
<text x="834" y="1986.4" font-size="56.5" text-anchor="end" font-weight="bold" fill="#000" transform="rotate(-45 834 1986.4)" word-spacing="8">OTS-LCP</text>
<clipPath id="cpc3"><rect x="989.95" y="1748.55" width="65.5" height="168.55"/></clipPath>
<g clip-path="url(#cpc3)">
<rect x="989.95" y="1748.55" width="65.5" height="168.55" fill="url(#gbar)"/>
<rect x="989.95" y="1748.55" width="65.5" height="168.55" fill="url(#gvert)"/>
<polygon points="990.95,1750.05 1054.45,1750.05 1025.7,1776.25 1019.7,1776.25" fill="url(#gtop)" filter="url(#bl15)"/>
<polygon points="990.95,1917.1 1054.45,1917.1 1037.84,1901.6 1007.56,1901.6" fill="url(#gbot)" filter="url(#bl10)"/>
</g>
<line x1="1022.7" y1="1732.21" x2="1022.7" y2="1766.03" stroke="#707070" stroke-width="3.6" stroke-linecap="butt"/>
<line x1="1011.7" y1="1732.21" x2="1033.7" y2="1732.21" stroke="#707070" stroke-width="3.6" stroke-linecap="butt"/>
<line x1="1011.7" y1="1766.03" x2="1033.7" y2="1766.03" stroke="#707070" stroke-width="3.6" stroke-linecap="butt"/>
<text x="1035.2" y="1986.4" font-size="56.5" text-anchor="end" font-weight="bold" fill="#000" transform="rotate(-45 1035.2 1986.4)" word-spacing="8">OTS-ABZ-LCP</text>
<line x1="297" y1="1917.1" x2="1102.8" y2="1917.1" stroke="#000" stroke-width="4.4" stroke-linecap="butt"/>
<text x="154.9" y="1580.5" font-size="65" text-anchor="middle" font-weight="bold" fill="#000" transform="rotate(-90 154.9 1580.5)" word-spacing="5">Cell Viability (%)</text>
<line x1="604.4" y1="1392.2" x2="1061.4" y2="1392.2" stroke="#222" stroke-width="2.6" stroke-linecap="butt"/>
<text transform="translate(845.5 1384.07) scale(0.96 1.2)" x="0" y="0" font-size="45" text-anchor="middle" font-weight="normal" fill="#3a3a3a">**</text>
<line x1="812.3" y1="1487.3" x2="1061.4" y2="1487.3" stroke="#222" stroke-width="2.6" stroke-linecap="butt"/>
<text transform="translate(949.4 1462.77) scale(0.96 1.2)" x="0" y="0" font-size="45" text-anchor="middle" font-weight="normal" fill="#3a3a3a">**</text>
<text x="1117.5" y="1107" font-size="67" text-anchor="start" font-weight="bold" fill="#000">(D)</text>
<text x="1761.7" y="1265.7" font-size="55" text-anchor="middle" font-weight="bold" fill="#000">HUVEC</text>
<path d="M1366.6,1255.74 H1383.1 V1905.3" fill="none" stroke="#000" stroke-width="4.2" stroke-linejoin="round"/>
<line x1="1366.6" y1="1905.3" x2="1383.1" y2="1905.3" stroke="#000" stroke-width="4.2" stroke-linecap="butt"/>
<line x1="1366.6" y1="1797.04" x2="1383.1" y2="1797.04" stroke="#000" stroke-width="4.2" stroke-linecap="butt"/>
<line x1="1366.6" y1="1688.78" x2="1383.1" y2="1688.78" stroke="#000" stroke-width="4.2" stroke-linecap="butt"/>
<line x1="1366.6" y1="1580.52" x2="1383.1" y2="1580.52" stroke="#000" stroke-width="4.2" stroke-linecap="butt"/>
<line x1="1366.6" y1="1472.26" x2="1383.1" y2="1472.26" stroke="#000" stroke-width="4.2" stroke-linecap="butt"/>
<line x1="1366.6" y1="1364" x2="1383.1" y2="1364" stroke="#000" stroke-width="4.2" stroke-linecap="butt"/>
<text x="1337" y="1923.3" font-size="58" text-anchor="end" font-weight="bold" fill="#000">0</text>
<text x="1337" y="1815.04" font-size="58" text-anchor="end" font-weight="bold" fill="#000">20</text>
<text x="1337" y="1706.78" font-size="58" text-anchor="end" font-weight="bold" fill="#000">40</text>
<text x="1337" y="1598.52" font-size="58" text-anchor="end" font-weight="bold" fill="#000">60</text>
<text x="1337" y="1490.26" font-size="58" text-anchor="end" font-weight="bold" fill="#000">80</text>
<text x="1337" y="1382" font-size="58" text-anchor="end" font-weight="bold" fill="#000">100</text>
<text x="1337" y="1273.74" font-size="58" text-anchor="end" font-weight="bold" fill="#000">120</text>
<clipPath id="cpd0"><rect x="1430.5" y="1364" width="47" height="541.3"/></clipPath>
<g clip-path="url(#cpd0)">
<rect x="1430.5" y="1364" width="47" height="541.3" fill="url(#gbarD)"/>
<rect x="1430.5" y="1364" width="47" height="541.3" fill="url(#gvert)"/>
<polygon points="1431.5,1365.5 1476.5,1365.5 1455,1385.71 1453,1385.71" fill="url(#gtop)" filter="url(#bl15)"/>
<polygon points="1431.5,1905.3 1476.5,1905.3 1459.89,1889.8 1448.11,1889.8" fill="url(#gbot)" filter="url(#bl10)"/>
</g>
<line x1="1444" y1="1362.8" x2="1464" y2="1362.8" stroke="#777" stroke-width="3.4" stroke-linecap="butt"/>
<text x="1467" y="1979" font-size="56.5" text-anchor="end" font-weight="bold" fill="#000" transform="rotate(-45 1467 1979)" word-spacing="8">Control</text>
<clipPath id="cpd1"><rect x="1571.8" y="1364" width="47" height="541.3"/></clipPath>
<g clip-path="url(#cpd1)">
<rect x="1571.8" y="1364" width="47" height="541.3" fill="url(#gbarD)"/>
<rect x="1571.8" y="1364" width="47" height="541.3" fill="url(#gvert)"/>
<polygon points="1572.8,1365.5 1617.8,1365.5 1596.3,1385.71 1594.3,1385.71" fill="url(#gtop)" filter="url(#bl15)"/>
<polygon points="1572.8,1905.3 1617.8,1905.3 1601.19,1889.8 1589.41,1889.8" fill="url(#gbot)" filter="url(#bl10)"/>
</g>
<line x1="1585.3" y1="1362.8" x2="1605.3" y2="1362.8" stroke="#777" stroke-width="3.4" stroke-linecap="butt"/>
<text x="1599.1" y="1981" font-size="56.5" text-anchor="end" font-weight="bold" fill="#000" transform="rotate(-45 1599.1 1981)" word-spacing="8">Free ABZ</text>
<clipPath id="cpd2"><rect x="1712.9" y="1400.27" width="47" height="505.03"/></clipPath>
<g clip-path="url(#cpd2)">
<rect x="1712.9" y="1400.27" width="47" height="505.03" fill="url(#gbarD)"/>
<rect x="1712.9" y="1400.27" width="47" height="505.03" fill="url(#gvert)"/>
<polygon points="1713.9,1401.77 1758.9,1401.77 1737.4,1421.98 1735.4,1421.98" fill="url(#gtop)" filter="url(#bl15)"/>
<polygon points="1713.9,1905.3 1758.9,1905.3 1742.29,1889.8 1730.51,1889.8" fill="url(#gbot)" filter="url(#bl10)"/>
</g>
<line x1="1736.4" y1="1387.28" x2="1736.4" y2="1419.21" stroke="#707070" stroke-width="3.6" stroke-linecap="butt"/>
<line x1="1726.4" y1="1387.28" x2="1746.4" y2="1387.28" stroke="#707070" stroke-width="3.6" stroke-linecap="butt"/>
<line x1="1726.4" y1="1419.21" x2="1746.4" y2="1419.21" stroke="#707070" stroke-width="3.6" stroke-linecap="butt"/>
<text x="1741.4" y="1981.1" font-size="56.5" text-anchor="end" font-weight="bold" fill="#000" transform="rotate(-45 1741.4 1981.1)" word-spacing="8">Free OTS</text>
<clipPath id="cpd3"><rect x="1855" y="1364" width="47" height="541.3"/></clipPath>
<g clip-path="url(#cpd3)">
<rect x="1855" y="1364" width="47" height="541.3" fill="url(#gbarD)"/>
<rect x="1855" y="1364" width="47" height="541.3" fill="url(#gvert)"/>
<polygon points="1856,1365.5 1901,1365.5 1879.5,1385.71 1877.5,1385.71" fill="url(#gtop)" filter="url(#bl15)"/>
<polygon points="1856,1905.3 1901,1905.3 1884.39,1889.8 1872.61,1889.8" fill="url(#gbot)" filter="url(#bl10)"/>
</g>
<line x1="1868.5" y1="1362.8" x2="1888.5" y2="1362.8" stroke="#777" stroke-width="3.4" stroke-linecap="butt"/>
<text x="1881.1" y="1986.4" font-size="56.5" text-anchor="end" font-weight="bold" fill="#000" transform="rotate(-45 1881.1 1986.4)" word-spacing="8">ABZ-LCP</text>
<clipPath id="cpd4"><rect x="1995" y="1423.54" width="47" height="481.76"/></clipPath>
<g clip-path="url(#cpd4)">
<rect x="1995" y="1423.54" width="47" height="481.76" fill="url(#gbarD)"/>
<rect x="1995" y="1423.54" width="47" height="481.76" fill="url(#gvert)"/>
<polygon points="1996,1425.04 2041,1425.04 2019.5,1445.25 2017.5,1445.25" fill="url(#gtop)" filter="url(#bl15)"/>
<polygon points="1996,1905.3 2041,1905.3 2024.39,1889.8 2012.61,1889.8" fill="url(#gbot)" filter="url(#bl10)"/>
</g>
<line x1="2018.5" y1="1413.8" x2="2018.5" y2="1434.37" stroke="#707070" stroke-width="3.6" stroke-linecap="butt"/>
<line x1="2008.5" y1="1413.8" x2="2028.5" y2="1413.8" stroke="#707070" stroke-width="3.6" stroke-linecap="butt"/>
<line x1="2008.5" y1="1434.37" x2="2028.5" y2="1434.37" stroke="#707070" stroke-width="3.6" stroke-linecap="butt"/>
<text x="2032.3" y="1977.3" font-size="56.5" text-anchor="end" font-weight="bold" fill="#000" transform="rotate(-45 2032.3 1977.3)" word-spacing="8">OTS-LCP</text>
<clipPath id="cpd5"><rect x="2137.1" y="1461.43" width="47" height="443.87"/></clipPath>
<g clip-path="url(#cpd5)">
<rect x="2137.1" y="1461.43" width="47" height="443.87" fill="url(#gbarD)"/>
<rect x="2137.1" y="1461.43" width="47" height="443.87" fill="url(#gvert)"/>
<polygon points="2138.1,1462.93 2183.1,1462.93 2161.6,1483.14 2159.6,1483.14" fill="url(#gtop)" filter="url(#bl15)"/>
<polygon points="2138.1,1905.3 2183.1,1905.3 2166.49,1889.8 2154.71,1889.8" fill="url(#gbot)" filter="url(#bl10)"/>
</g>
<line x1="2160.6" y1="1434.37" x2="2160.6" y2="1487.42" stroke="#707070" stroke-width="3.6" stroke-linecap="butt"/>
<line x1="2150.6" y1="1434.37" x2="2170.6" y2="1434.37" stroke="#707070" stroke-width="3.6" stroke-linecap="butt"/>
<line x1="2150.6" y1="1487.42" x2="2170.6" y2="1487.42" stroke="#707070" stroke-width="3.6" stroke-linecap="butt"/>
<text x="2174.4" y="1977.3" font-size="56.5" text-anchor="end" font-weight="bold" fill="#000" transform="rotate(-45 2174.4 1977.3)" word-spacing="8">OTS-ABZ-LCP</text>
<line x1="1366.6" y1="1905.3" x2="2230.8" y2="1905.3" stroke="#000" stroke-width="4.4" stroke-linecap="butt"/>
<text x="1223" y="1581" font-size="65" text-anchor="middle" font-weight="bold" fill="#000" transform="rotate(-90 1223 1581)" word-spacing="5">Cell viability (%)</text>
</svg>
</body></html>
